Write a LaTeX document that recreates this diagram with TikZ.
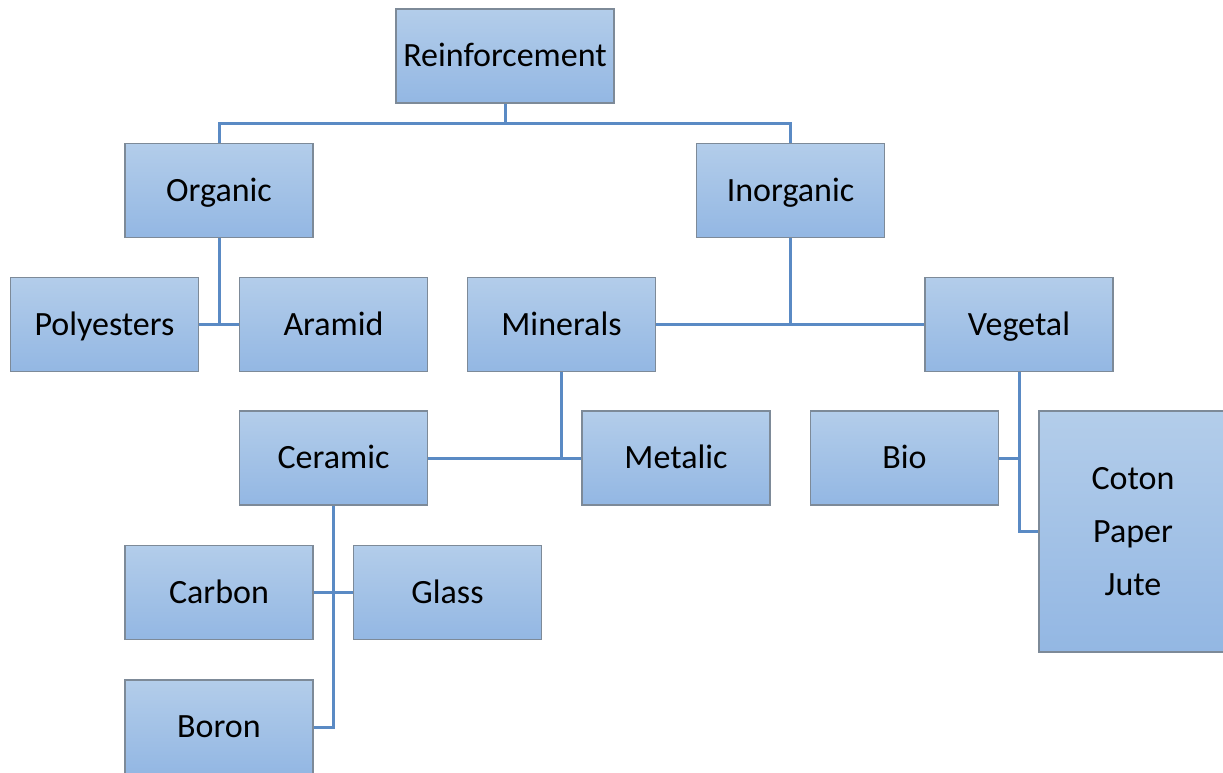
\documentclass[tikz,border=0pt]{standalone}
\usepackage{fontspec}
\setmainfont{Carlito}
\definecolor{topc}{HTML}{B3CDEA}
\definecolor{botc}{HTML}{93B7E3}
\definecolor{boxborder}{HTML}{7D8A98}
\definecolor{connc}{HTML}{5A8AC4}
\tikzset{
  box/.style={draw=boxborder, line width=1.2pt, top color=topc, bottom color=botc,
    minimum width=188pt, minimum height=94pt, inner sep=0pt, text=black,
    font=\fontsize{34}{40}\selectfont, text height=21pt, text depth=0pt},
  conn/.style={draw=connc, line width=3pt}
}
\begin{document}
\begin{tikzpicture}[x=1pt,y=-1pt]
\useasboundingbox (0,0) rectangle (1223,772);
\clip (0,0) rectangle (1223,772);
\node[box, minimum width=218pt] (R) at (505,56) {Reinforcement};
\node[box] (Org) at (219,190.5) {Organic};
\node[box] (Inorg) at (790.5,190.5) {Inorganic};
\node[box] (Poly) at (104.5,324.5) {Polyesters};
\node[box] (Aramid) at (333.5,324.5) {Aramid};
\node[box] (Minerals) at (561.5,324.5) {Minerals};
\node[box] (Vegetal) at (1019,324.5) {Vegetal};
\node[box] (Ceramic) at (333.5,458) {Ceramic};
\node[box] (Metalic) at (676,458) {Metalic};
\node[box] (Bio) at (904.5,458) {Bio};
\node[box, minimum height=241pt, align=center, text height=, text depth=, font=\fontsize{34}{53}\selectfont] (Coton) at (1133,531.5) {Coton\\Paper\\Jute};
\node[box] (Carbon) at (219,592.5) {Carbon};
\node[box] (Glass) at (447.5,592.5) {Glass};
\node[box] (Boron) at (219,727) {Boron};
\coordinate (j1) at (505,123);
\draw[conn] (R.south) -- (j1);
\draw[conn] (Org.north) |- (j1) -| (Inorg.north);
\draw[conn] (Org.south) -- (Org.south |- Poly.east);
\draw[conn] (Poly.east) -- (Aramid.west);
\draw[conn] (Inorg.south) -- (Inorg.south |- Minerals.east);
\draw[conn] (Minerals.east) -- (Vegetal.west);
\draw[conn] (Minerals.south) -- (Minerals.south |- Ceramic.east);
\draw[conn] (Ceramic.east) -- (Metalic.west);
\draw[conn] (Vegetal.south) |- (Coton.west);
\draw[conn] (Bio.east) -- (Bio.east -| Vegetal.south);
\draw[conn] (Ceramic.south) |- (Boron.east);
\draw[conn] (Carbon.east) -- (Glass.west);
\end{tikzpicture}
\end{document}
